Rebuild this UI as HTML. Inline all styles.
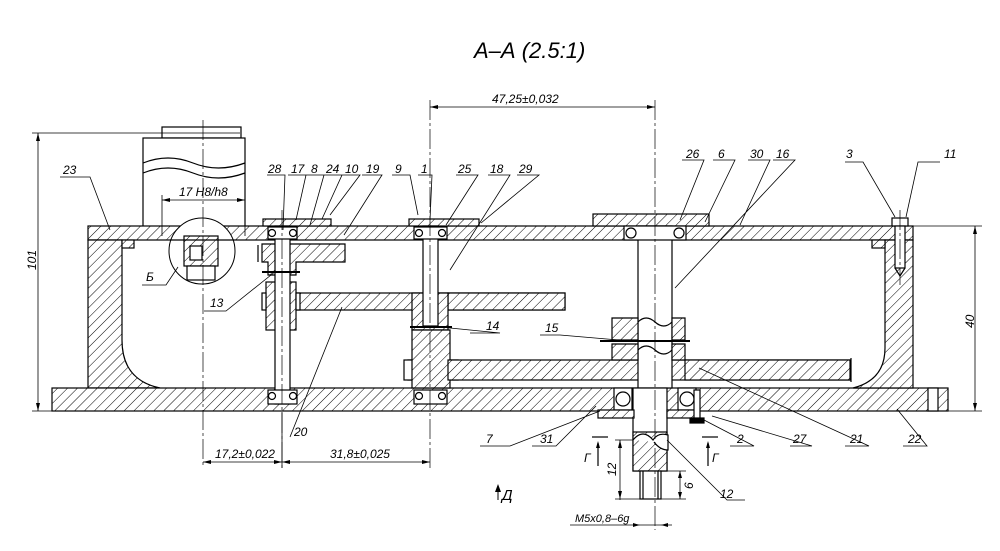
<!DOCTYPE html>
<html><head><meta charset="utf-8"><style>
html,body{margin:0;padding:0;background:#fff;}
svg{display:block;}
text{font-family:"Liberation Sans","DejaVu Sans",sans-serif;font-style:italic;fill:#000;}
</style></head><body>
<svg width="1000" height="551" viewBox="0 0 1000 551" xmlns="http://www.w3.org/2000/svg">
<defs>
<pattern id="h" width="7" height="7" patternUnits="userSpaceOnUse" patternTransform="rotate(45)">
<rect width="7" height="7" fill="#fff"/><line x1="0" y1="0" x2="0" y2="7" stroke="#000" stroke-width="1"/>
</pattern>
</defs>
<g stroke="#000" stroke-width="1.2" fill="none">
<text x="474" y="58" font-size="22" stroke="none">А–А (2.5:1)</text>

<rect x="162" y="127" width="79" height="11" fill="#fff"/>
<rect x="143" y="138" width="102" height="98" fill="#fff"/>
<path d="M143 163 q25 -10 50 0 t52 0 M143 173 q25 -10 50 0 t52 0"/>

<rect x="88" y="226" width="825" height="14" fill="url(#h)"/>
<path d="M88 240 h34 v100 q0 40 38 48 h-72 z" fill="url(#h)"/>
<rect x="122" y="240" width="12" height="8" fill="url(#h)"/>
<rect x="52" y="388" width="896" height="23" fill="url(#h)"/>
<path d="M885 240 h28 v148 h-60 q32 -8 32 -40 z" fill="url(#h)"/>
<rect x="872" y="240" width="13" height="8" fill="url(#h)"/>
<rect x="928" y="388" width="10" height="23" fill="#fff"/>
<rect x="892" y="218" width="16" height="8" fill="#fff"/>
<rect x="895" y="226" width="10" height="42" fill="#fff"/>
<path d="M895 268 l5 8 l5 -8"/>

<rect x="409" y="219" width="70" height="7" fill="url(#h)"/>
<rect x="593" y="214" width="116" height="12" fill="url(#h)"/>
<rect x="263" y="219" width="68" height="7" fill="url(#h)"/>

<!-- gear 19 -->
<path d="M262 244 h83 v18 h-49 v13 h-28 v-13 h-6 z" fill="url(#h)"/>
<line x1="258" y1="245" x2="258" y2="262"/>
<!-- gear 20 -->
<rect x="296" y="293" width="269" height="17" fill="url(#h)"/>
<rect x="266" y="282" width="30" height="48" fill="url(#h)"/>
<rect x="262" y="293" width="4" height="17" fill="#fff"/>
<rect x="296" y="293" width="4" height="17" fill="#fff"/>
<rect x="275" y="226" width="15" height="178" fill="#fff"/>
<line x1="262" y1="272" x2="300" y2="272" stroke-width="2"/>
<g fill="#fff"><rect x="268" y="227" width="29" height="12"/><rect x="268" y="390" width="29" height="14"/></g>
<g><circle cx="272" cy="233" r="3.5"/><circle cx="293" cy="233" r="3.5"/><circle cx="272" cy="396" r="3.5"/><circle cx="293" cy="396" r="3.5"/></g>

<!-- middle shaft -->
<rect x="448" y="293" width="117" height="17" fill="url(#h)"/>
<path d="M412 293 h36 v37 h-36 z" fill="url(#h)"/>
<path d="M412 330 h38 v30 h8 v20 h-8 v8 h-38 v-8 h-4 v-20 h4 z" fill="url(#h)"/>
<rect x="404" y="360" width="8" height="20" fill="#fff"/>
<rect x="448" y="360" width="402" height="20" fill="url(#h)"/>
<line x1="851" y1="358" x2="851" y2="382"/>
<rect x="423" y="226" width="15" height="100" fill="#fff"/>
<line x1="410" y1="327" x2="452" y2="327" stroke-width="2"/>
<g fill="#fff"><rect x="414" y="227" width="33" height="12"/><rect x="414" y="390" width="33" height="14"/></g>
<g><circle cx="419" cy="233" r="3.5"/><circle cx="442" cy="233" r="3.5"/><circle cx="419" cy="396" r="3.5"/><circle cx="442" cy="396" r="3.5"/></g>

<!-- main shaft -->
<rect x="638" y="226" width="34" height="162" fill="#fff"/>
<path d="M612 318 h26 v22 h-26z M672 318 h13 v22 h-13z" fill="url(#h)"/>
<line x1="600" y1="341" x2="690" y2="341" stroke-width="2"/>
<path d="M612 344 h26 v16 h-26z M672 344 h13 v16 h-13z" fill="url(#h)"/>
<path d="M638 322 q8 -8 17 0 t17 0 M638 350 q8 -8 17 0 t17 0"/>
<rect x="685" y="360" width="165" height="20" fill="url(#h)"/>
<g fill="#fff"><rect x="624" y="226" width="62" height="14"/><rect x="614" y="388" width="18" height="22"/><rect x="678" y="388" width="18" height="22"/></g>
<g><circle cx="631" cy="233" r="5"/><circle cx="679" cy="233" r="5"/><circle cx="623" cy="399" r="7"/><circle cx="687" cy="399" r="7"/></g>
<rect x="633" y="388" width="34" height="83" fill="#fff"/>
<rect x="633" y="432" width="34" height="39" fill="url(#h)"/>
<path d="M633 440 q10 -12 20 0 q5 -8 15 -5 v15 q-8 0 -14 -8" fill="#fff"/>
<rect x="640" y="471" width="21" height="28" fill="#fff"/>
<line x1="643" y1="471" x2="643" y2="499"/><line x1="658" y1="471" x2="658" y2="499"/>
<rect x="598" y="410" width="36" height="8" fill="url(#h)"/>
<rect x="667" y="410" width="28" height="8" fill="url(#h)"/>
<rect x="694" y="390" width="6" height="30" fill="#fff"/>
<rect x="690" y="418" width="14" height="5" fill="#000"/>

<!-- circle Б -->
<circle cx="202" cy="251" r="33" stroke-width="1" fill="#fff"/>
<rect x="184" y="236" width="34" height="30" fill="url(#h)"/>
<rect x="190" y="246" width="12" height="14" fill="#fff"/>
<rect x="187" y="266" width="28" height="14" fill="#fff"/>
<line x1="170" y1="240" x2="234" y2="240"/>

<g stroke-width="0.7" stroke-dasharray="20 3 3 3">
<line x1="203" y1="120" x2="203" y2="468"/>
<line x1="282" y1="210" x2="282" y2="468"/>
<line x1="430" y1="100" x2="430" y2="468"/>
<line x1="655" y1="100" x2="655" y2="530"/>
<line x1="900" y1="210" x2="900" y2="285"/>
</g>

<g stroke-width="0.8">
<line x1="430" y1="107" x2="655" y2="107"/>
<line x1="38" y1="133" x2="38" y2="411"/><line x1="32" y1="133" x2="240" y2="133"/><line x1="32" y1="411" x2="52" y2="411"/>
<line x1="975" y1="226" x2="975" y2="411"/><line x1="913" y1="226" x2="982" y2="226"/><line x1="948" y1="411" x2="982" y2="411"/>
<line x1="162" y1="200" x2="245" y2="200"/><line x1="162" y1="195" x2="162" y2="236"/><line x1="245" y1="195" x2="245" y2="236"/>
<line x1="203" y1="462" x2="430" y2="462"/><line x1="282" y1="412" x2="282" y2="468"/>
<line x1="620" y1="440" x2="620" y2="500"/><line x1="615" y1="440" x2="633" y2="440"/><line x1="615" y1="499" x2="640" y2="499"/>
<line x1="680" y1="471" x2="680" y2="499"/><line x1="661" y1="471" x2="686" y2="471"/><line x1="661" y1="499" x2="686" y2="499"/>
<line x1="570" y1="525" x2="672" y2="525"/>
</g>
<g fill="#000" stroke="none">
<path d="M430 107 l8 -2 v4z M655 107 l-8 -2 v4z M38 133 l-2 8 h4z M38 411 l-2 -8 h4z M975 226 l-2 8 h4z M975 411 l-2 -8 h4z M162 200 l8 -2 v4z M245 200 l-8 -2 v4z M203 462 l8 -2 v4z M282 462 l-8 -2 v4z M282 462 l8 -2 v4z M430 462 l-8 -2 v4z M620 440 l-2 8 h4z M620 499 l-2 -8 h4z M680 471 l-2 7 h4z M680 499 l-2 -7 h4z M640 525 l-7 -2 v4z M661 525 l7 -2 v4z"/>
<path d="M498 484 l-3 8 h6z"/>
</g>
<line x1="498" y1="486" x2="498" y2="500" stroke-width="1"/>
<g stroke-width="1.2"><line x1="592" y1="437" x2="608" y2="437"/><line x1="702" y1="437" x2="718" y2="437"/><line x1="598" y1="443" x2="598" y2="466"/><line x1="708" y1="443" x2="708" y2="466"/></g>
<path d="M598 441 l-2 7 h4z M708 441 l-2 7 h4z" fill="#000" stroke="none"/>

<g stroke-width="0.8">
<path d="M60 177 h30 l20 53"/>
<path d="M267 175 h18 l-2 55 M288 175 h18 l-10 45 M306 175 h18 l-14 50 M324 175 h18 l-20 44 M342 175 h18 l-30 40 M362 175 h20 l-38 60"/>
<path d="M392 175 h18 l8 40 M418 175 h14 l-2 45 M456 175 h22 l-32 50 M488 175 h22 l-60 95 M517 175 h22 l-58 48"/>
<path d="M682 160 h22 l-24 60 M713 160 h22 l-30 62 M748 160 h22 l-30 65 M773 160 h22 l-120 128"/>
<path d="M845 162 h18 l32 55 M940 162 h-22 l-12 55"/>
<path d="M142 285 h24 l12 -18 M204 311 h22 l50 -40 M470 333 h30 l-60 -6 M540 335 h20 l70 6"/>
<path d="M290 437 l52 -130 M480 446 h30 l90 -35 M532 446 h24 l40 -40 M730 446 h24 l-50 -26 M790 446 h22 l-100 -30 M845 446 h24 l-170 -78 M903 446 h24 l-30 -37 M745 500 h-18 l-60 -60"/>
</g>
</g>

<g font-size="12" stroke="none">
<text x="492" y="103">47,25±0,032</text>
<text x="179" y="196">17 H8/h8</text>
<text x="22" y="268" transform="rotate(-90 30 262)">101</text>
<text x="960" y="326" transform="rotate(-90 968 320)">40</text>
<text x="215" y="458">17,2±0,022</text>
<text x="330" y="458">31,8±0,025</text>
<text x="608" y="472" transform="rotate(-90 614 470)">12</text>
<text x="688" y="490" transform="rotate(-90 690 487)">6</text>
<text x="575" y="522" font-size="11">M5x0,8–6g</text>
<text x="584" y="462" font-style="normal">Г</text>
<text x="712" y="462" font-style="normal">Г</text>
<text x="502" y="500" font-style="normal" font-size="15">Д</text>
<text x="63" y="174">23</text>
<text x="268" y="173">28</text><text x="291" y="173">17</text><text x="311" y="173">8</text><text x="326" y="173">24</text><text x="345" y="173">10</text><text x="366" y="173">19</text>
<text x="395" y="173">9</text><text x="421" y="173">1</text><text x="458" y="173">25</text><text x="490" y="173">18</text><text x="519" y="173">29</text>
<text x="686" y="158">26</text><text x="718" y="158">6</text><text x="750" y="158">30</text><text x="776" y="158">16</text>
<text x="846" y="158">3</text><text x="944" y="158">11</text>
<text x="146" y="281">Б</text><text x="210" y="307">13</text><text x="486" y="330">14</text><text x="545" y="332">15</text>
<text x="294" y="436">20</text><text x="486" y="443">7</text><text x="540" y="443">31</text><text x="737" y="443">2</text><text x="793" y="443">27</text><text x="850" y="443">21</text><text x="908" y="443">22</text><text x="720" y="498">12</text>
</g>
</svg>
</body></html>
